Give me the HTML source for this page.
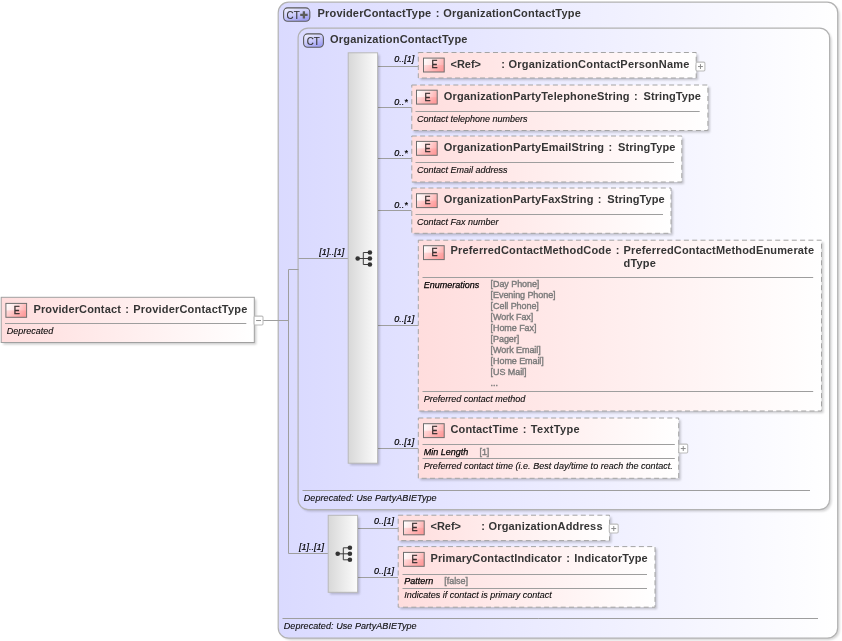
<!DOCTYPE html>
<html><head><meta charset="utf-8"><title>ProviderContact</title>
<style>
html,body{margin:0;padding:0;background:#fff;}
svg{display:block;font-family:"Liberation Sans", sans-serif;will-change:transform;}
.t{font-weight:bold;font-size:11px;fill:#353535;}
.i{font-style:italic;font-size:9px;fill:#0c0c0c;stroke:#0c0c0c;stroke-width:.12px;}
.c{font-style:italic;font-size:9px;fill:#000;stroke:#000;stroke-width:.2px;}
.v{font-size:9px;fill:#7c7c7c;stroke:#7c7c7c;stroke-width:.4px;}
.b{font-size:11px;fill:#3a3030;stroke:#3a3030;stroke-width:.45px;}
.f{font-style:italic;font-size:9px;fill:#000;stroke:#000;stroke-width:.25px;}
.k{font-size:11px;fill:#333;stroke:#333;stroke-width:.15px;}
</style></head><body>
<svg width="842" height="641" viewBox="0 0 842 641">
<defs>
<linearGradient id="gl" x1="0" y1="0" x2="1" y2="0"><stop offset="0" stop-color="#dadaff"/><stop offset="1" stop-color="#ffffff"/></linearGradient>
<linearGradient id="gp" x1="0" y1="0" x2="1" y2="0"><stop offset="0" stop-color="#ffdddd"/><stop offset="1" stop-color="#ffffff"/></linearGradient>
<linearGradient id="gs" x1="0" y1="0" x2="1" y2="0"><stop offset="0" stop-color="#d8d8d8"/><stop offset="1" stop-color="#fcfcfc"/></linearGradient>
<linearGradient id="gb" x1="0" y1="0" x2="1" y2="0.3"><stop offset="0" stop-color="#ffffff"/><stop offset="0.5" stop-color="#ffe4e4"/><stop offset="1" stop-color="#ffb0b0"/></linearGradient>
<linearGradient id="gb2" x1="0" y1="0" x2="1" y2="0.3"><stop offset="0" stop-color="#ffe0e0"/><stop offset="0.5" stop-color="#ffbcbc"/><stop offset="1" stop-color="#ff9c9c"/></linearGradient>
<linearGradient id="gc" x1="0" y1="0" x2="0.6" y2="1"><stop offset="0" stop-color="#f4f4ff"/><stop offset="0.5" stop-color="#d0d0fc"/><stop offset="1" stop-color="#a0a0f4"/></linearGradient>
<filter id="sh" x="-20%" y="-20%" width="140%" height="140%"><feGaussianBlur stdDeviation="1.1"/></filter>
</defs>

<rect x="280.2" y="4.2" width="559.5" height="636" rx="10.5" fill="#000" opacity="0.17" filter="url(#sh)"/>
<rect x="278.2" y="2.2" width="559.5" height="636" rx="10.5" fill="url(#gl)" stroke="#b2b2b2" stroke-width="1.2"/>
<rect x="300.1" y="30.1" width="531.5" height="481.5" rx="10" fill="#000" opacity="0.17" filter="url(#sh)"/>
<rect x="298.1" y="28.1" width="531.5" height="481.5" rx="10" fill="url(#gl)" stroke="#b2b2b2" stroke-width="1.2"/>
<rect x="283.6" y="7.900" width="26.2" height="13.4" rx="4" fill="url(#gc)" stroke="#5a5a5a" stroke-width="1.1"/>
<text x="286.6" y="18.5" class="k" textLength="13" lengthAdjust="spacingAndGlyphs">CT</text>
<path d="M300.200 14.900h7.400M303.900 11.200v7.400" stroke="#5c5c5c" stroke-width="2.3" fill="none"/>
<text x="317.6" y="17" class="t" textLength="113.56" lengthAdjust="spacing">ProviderContactType</text>
<text x="435.66" y="17" class="t">:</text>
<text x="443.26" y="17" class="t" textLength="137.59" lengthAdjust="spacing">OrganizationContactType</text>
<rect x="303.6" y="33.900" width="19.800" height="13.4" rx="4" fill="url(#gc)" stroke="#5a5a5a" stroke-width="1.1"/>
<text x="306.7" y="44.5" class="k" textLength="13" lengthAdjust="spacingAndGlyphs">CT</text>
<text x="330" y="43" class="t" textLength="137.45" lengthAdjust="spacing">OrganizationContactType</text>
<line x1="263" y1="320.5" x2="288.5" y2="320.5" stroke="#9e9e9e" stroke-width="1"/>
<line x1="288.5" y1="269.5" x2="288.5" y2="553.5" stroke="#9e9e9e" stroke-width="1"/>
<line x1="288.5" y1="269.5" x2="298.5" y2="269.5" stroke="#9e9e9e" stroke-width="1"/>
<line x1="298.5" y1="258.5" x2="348" y2="258.5" stroke="#9e9e9e" stroke-width="1"/>
<line x1="288.5" y1="553.5" x2="328" y2="553.5" stroke="#9e9e9e" stroke-width="1"/>
<line x1="377.5" y1="66.5" x2="418" y2="66.5" stroke="#9e9e9e" stroke-width="1"/>
<line x1="377.5" y1="107.5" x2="411.5" y2="107.5" stroke="#9e9e9e" stroke-width="1"/>
<line x1="377.5" y1="158.5" x2="411.5" y2="158.5" stroke="#9e9e9e" stroke-width="1"/>
<line x1="377.5" y1="210.5" x2="411.5" y2="210.5" stroke="#9e9e9e" stroke-width="1"/>
<line x1="377.5" y1="325.5" x2="418" y2="325.5" stroke="#9e9e9e" stroke-width="1"/>
<line x1="377.5" y1="448.5" x2="418" y2="448.5" stroke="#9e9e9e" stroke-width="1"/>
<line x1="357.5" y1="528.5" x2="398" y2="528.5" stroke="#9e9e9e" stroke-width="1"/>
<line x1="357.5" y1="577.5" x2="398" y2="577.5" stroke="#9e9e9e" stroke-width="1"/>
<rect x="350.2" y="54.8" width="29.4" height="410.4" rx="0" fill="#000" opacity="0.2" filter="url(#sh)"/>
<rect x="348.2" y="52.8" width="29.4" height="410.4" fill="url(#gs)" stroke="#b8b8b8" stroke-width="1"/>
<g stroke="#3c3c3c" stroke-width="1" fill="#333">
<line x1="357.7" y1="258.5" x2="369.9" y2="258.5"/>
<line x1="363.3" y1="252.5" x2="363.3" y2="264.5"/>
<line x1="363.3" y1="252.5" x2="369.9" y2="252.5"/>
<line x1="363.3" y1="264.5" x2="369.9" y2="264.5"/>
<circle cx="357.7" cy="258.5" r="2.3" stroke="none"/>
<circle cx="369.9" cy="252.5" r="2.3" stroke="none"/>
<circle cx="369.9" cy="258.5" r="2.3" stroke="none"/>
<circle cx="369.9" cy="264.5" r="2.3" stroke="none"/>
</g>
<rect x="330.2" y="517.3" width="29.4" height="77" rx="0" fill="#000" opacity="0.2" filter="url(#sh)"/>
<rect x="328.2" y="515.3" width="29.4" height="77" fill="url(#gs)" stroke="#b8b8b8" stroke-width="1"/>
<g stroke="#3c3c3c" stroke-width="1" fill="#333">
<line x1="337.7" y1="553.8" x2="349.9" y2="553.8"/>
<line x1="343.3" y1="547.8" x2="343.3" y2="559.8"/>
<line x1="343.3" y1="547.8" x2="349.9" y2="547.8"/>
<line x1="343.3" y1="559.8" x2="349.9" y2="559.8"/>
<circle cx="337.7" cy="553.8" r="2.3" stroke="none"/>
<circle cx="349.9" cy="547.8" r="2.3" stroke="none"/>
<circle cx="349.9" cy="553.8" r="2.3" stroke="none"/>
<circle cx="349.9" cy="559.8" r="2.3" stroke="none"/>
</g>
<text x="319.3" y="255.2" class="c" textLength="25" lengthAdjust="spacing">[1]..[1]</text>
<text x="299" y="550.4" class="c" textLength="25" lengthAdjust="spacing">[1]..[1]</text>
<text x="394.2" y="62.2" class="c" textLength="20" lengthAdjust="spacing">0..[1]</text>
<text x="394.2" y="104.5" class="c" textLength="13.5" lengthAdjust="spacing">0..*</text>
<text x="394.2" y="155.5" class="c" textLength="13.5" lengthAdjust="spacing">0..*</text>
<text x="394.2" y="207.5" class="c" textLength="13.5" lengthAdjust="spacing">0..*</text>
<text x="394.2" y="322.3" class="c" textLength="20" lengthAdjust="spacing">0..[1]</text>
<text x="394.2" y="445.4" class="c" textLength="20" lengthAdjust="spacing">0..[1]</text>
<text x="374" y="524.2" class="c" textLength="20" lengthAdjust="spacing">0..[1]</text>
<text x="374" y="574" class="c" textLength="20" lengthAdjust="spacing">0..[1]</text>
<rect x="3.2" y="299.3" width="253.1" height="45.2" rx="0" fill="#000" opacity="0.2" filter="url(#sh)"/>
<rect x="1.2" y="297.3" width="253.1" height="45.2" fill="url(#gp)" stroke="#a0a0a0" stroke-width="1"/>
<rect x="5.9" y="303.4" width="20.7" height="13.9" fill="url(#gb)"/>
<rect x="5.9" y="310.35" width="20.7" height="6.95" fill="url(#gb2)"/>
<rect x="5.9" y="303.4" width="20.7" height="13.9" fill="none" stroke="#6e6e6e" stroke-width="1"/>
<text x="16.85" y="313.7" class="b" text-anchor="middle" textLength="6" lengthAdjust="spacingAndGlyphs">E</text>
<text x="33.5" y="312.6" class="t" textLength="87.31" lengthAdjust="spacing">ProviderContact</text>
<text x="125.31" y="312.6" class="t">:</text>
<text x="133.21" y="312.6" class="t" textLength="114.11" lengthAdjust="spacing">ProviderContactType</text>
<line x1="5" y1="323.5" x2="246.3" y2="323.5" stroke="#9e9e9e" stroke-width="1"/>
<text x="6.7" y="333.6" class="i" textLength="46.5" lengthAdjust="spacing">Deprecated</text>
<rect x="254.1" y="316.1" width="8.9" height="8.9" rx="1.2" fill="#fff" stroke="#bcbcbc" stroke-width="1.1"/>
<line x1="256.1" y1="320.55" x2="261" y2="320.55" stroke="#8c8c8c"/>
<rect x="420.3" y="54.5" width="277.9" height="25.5" rx="0" fill="#000" opacity="0.2" filter="url(#sh)"/>
<rect x="418.3" y="52.5" width="277.9" height="25.5" fill="url(#gp)" stroke="#a4a4a4" stroke-width="1" stroke-dasharray="5 3.3"/>
<rect x="423.5" y="58.1" width="20.7" height="13.9" fill="url(#gb)"/>
<rect x="423.5" y="65.05" width="20.7" height="6.95" fill="url(#gb2)"/>
<rect x="423.5" y="58.1" width="20.7" height="13.9" fill="none" stroke="#6e6e6e" stroke-width="1"/>
<text x="434.45" y="68.4" class="b" text-anchor="middle" textLength="6" lengthAdjust="spacingAndGlyphs">E</text>
<text x="450.5" y="67.5" class="t" textLength="30.56" lengthAdjust="spacing">&lt;Ref&gt;</text>
<text x="501.3" y="67.5" class="t">:</text>
<text x="508.6" y="67.5" class="t" textLength="180.7" lengthAdjust="spacing">OrganizationContactPersonName</text>
<rect x="696" y="62.1" width="8.9" height="8.9" rx="1.2" fill="#fff" stroke="#bcbcbc" stroke-width="1.1"/>
<line x1="698" y1="66.55" x2="702.9" y2="66.55" stroke="#8c8c8c"/>
<line x1="700.45" y1="64.1" x2="700.45" y2="69" stroke="#8c8c8c"/>
<rect x="413.8" y="87" width="296.1" height="45.5" rx="0" fill="#000" opacity="0.2" filter="url(#sh)"/>
<rect x="411.8" y="85" width="296.1" height="45.5" fill="url(#gp)" stroke="#a4a4a4" stroke-width="1" stroke-dasharray="5 3.3"/>
<rect x="416.5" y="90.2" width="20.7" height="13.9" fill="url(#gb)"/>
<rect x="416.5" y="97.15" width="20.7" height="6.95" fill="url(#gb2)"/>
<rect x="416.5" y="90.2" width="20.7" height="13.9" fill="none" stroke="#6e6e6e" stroke-width="1"/>
<text x="427.45" y="100.5" class="b" text-anchor="middle" textLength="6" lengthAdjust="spacingAndGlyphs">E</text>
<text x="443.75" y="100" class="t" textLength="185.84" lengthAdjust="spacing">OrganizationPartyTelephoneString</text>
<text x="634.09" y="100" class="t">:</text>
<text x="643.59" y="100" class="t" textLength="57.34" lengthAdjust="spacing">StringType</text>
<line x1="415.5" y1="111.5" x2="699.7" y2="111.5" stroke="#9e9e9e" stroke-width="1"/>
<text x="417.1" y="121.5" class="i" textLength="110.5" lengthAdjust="spacing">Contact telephone numbers</text>
<rect x="413.8" y="138" width="270" height="46" rx="0" fill="#000" opacity="0.2" filter="url(#sh)"/>
<rect x="411.8" y="136" width="270" height="46" fill="url(#gp)" stroke="#a4a4a4" stroke-width="1" stroke-dasharray="5 3.3"/>
<rect x="416.5" y="141.4" width="20.7" height="13.9" fill="url(#gb)"/>
<rect x="416.5" y="148.35" width="20.7" height="6.95" fill="url(#gb2)"/>
<rect x="416.5" y="141.4" width="20.7" height="13.9" fill="none" stroke="#6e6e6e" stroke-width="1"/>
<text x="427.45" y="151.7" class="b" text-anchor="middle" textLength="6" lengthAdjust="spacingAndGlyphs">E</text>
<text x="443.75" y="150.8" class="t" textLength="160.3" lengthAdjust="spacing">OrganizationPartyEmailString</text>
<text x="608.55" y="150.8" class="t">:</text>
<text x="618.05" y="150.8" class="t" textLength="57.34" lengthAdjust="spacing">StringType</text>
<line x1="415.5" y1="162.5" x2="674" y2="162.5" stroke="#9e9e9e" stroke-width="1"/>
<text x="417.1" y="172.7" class="i" textLength="90.5" lengthAdjust="spacing">Contact Email address</text>
<rect x="413.8" y="190" width="259.2" height="45.3" rx="0" fill="#000" opacity="0.2" filter="url(#sh)"/>
<rect x="411.8" y="188" width="259.2" height="45.3" fill="url(#gp)" stroke="#a4a4a4" stroke-width="1" stroke-dasharray="5 3.3"/>
<rect x="416.5" y="193.7" width="20.7" height="13.9" fill="url(#gb)"/>
<rect x="416.5" y="200.65" width="20.7" height="6.95" fill="url(#gb2)"/>
<rect x="416.5" y="193.7" width="20.7" height="13.9" fill="none" stroke="#6e6e6e" stroke-width="1"/>
<text x="427.45" y="204" class="b" text-anchor="middle" textLength="6" lengthAdjust="spacingAndGlyphs">E</text>
<text x="443.75" y="203" class="t" textLength="149.61" lengthAdjust="spacing">OrganizationPartyFaxString</text>
<text x="597.86" y="203" class="t">:</text>
<text x="607.36" y="203" class="t" textLength="57.34" lengthAdjust="spacing">StringType</text>
<line x1="415.5" y1="214.5" x2="663" y2="214.5" stroke="#9e9e9e" stroke-width="1"/>
<text x="417.1" y="224.5" class="i" textLength="81.5" lengthAdjust="spacing">Contact Fax number</text>
<rect x="420.3" y="242.2" width="403.2" height="170.8" rx="0" fill="#000" opacity="0.2" filter="url(#sh)"/>
<rect x="418.3" y="240.2" width="403.2" height="170.8" fill="url(#gp)" stroke="#a4a4a4" stroke-width="1" stroke-dasharray="5 3.3"/>
<rect x="423.5" y="245.7" width="20.7" height="13.9" fill="url(#gb)"/>
<rect x="423.5" y="252.65" width="20.7" height="6.95" fill="url(#gb2)"/>
<rect x="423.5" y="245.7" width="20.7" height="13.9" fill="none" stroke="#6e6e6e" stroke-width="1"/>
<text x="434.45" y="256" class="b" text-anchor="middle" textLength="6" lengthAdjust="spacingAndGlyphs">E</text>
<text x="450.5" y="254.4" class="t" textLength="160.85" lengthAdjust="spacing">PreferredContactMethodCode</text>
<text x="615.85" y="254.4" class="t">:</text>
<text x="623.55" y="254.4" class="t" textLength="190.49" lengthAdjust="spacing">PreferredContactMethodEnumerate</text>
<text x="623.6" y="266.8" class="t" textLength="32.23" lengthAdjust="spacing">dType</text>
<line x1="422.5" y1="277.5" x2="813.2" y2="277.5" stroke="#9e9e9e" stroke-width="1"/>
<text x="423.8" y="287.8" class="f" textLength="55.5" lengthAdjust="spacing">Enumerations</text>
<text x="490.6" y="287.3" class="v" textLength="48.76" lengthAdjust="spacing">[Day Phone]</text>
<text x="490.6" y="298.3" class="v" textLength="65.01" lengthAdjust="spacing">[Evening Phone]</text>
<text x="490.6" y="309.3" class="v" textLength="48.27" lengthAdjust="spacing">[Cell Phone]</text>
<text x="490.6" y="320.3" class="v" textLength="42.69" lengthAdjust="spacing">[Work Fax]</text>
<text x="490.6" y="331.3" class="v" textLength="45.8" lengthAdjust="spacing">[Home Fax]</text>
<text x="490.6" y="342.3" class="v" textLength="28.57" lengthAdjust="spacing">[Pager]</text>
<text x="490.6" y="353.3" class="v" textLength="50.08" lengthAdjust="spacing">[Work Email]</text>
<text x="490.6" y="364.3" class="v" textLength="53.19" lengthAdjust="spacing">[Home Email]</text>
<text x="490.6" y="375.3" class="v" textLength="35.95" lengthAdjust="spacing">[US Mail]</text>
<text x="490.6" y="386.3" class="v" textLength="7.39" lengthAdjust="spacing">...</text>
<line x1="422.5" y1="391.5" x2="813.2" y2="391.5" stroke="#9e9e9e" stroke-width="1"/>
<text x="423.8" y="402" class="i" textLength="101.5" lengthAdjust="spacing">Preferred contact method</text>
<rect x="420.3" y="420" width="260.4" height="60.3" rx="0" fill="#000" opacity="0.2" filter="url(#sh)"/>
<rect x="418.3" y="418" width="260.4" height="60.3" fill="url(#gp)" stroke="#a4a4a4" stroke-width="1" stroke-dasharray="5 3.3"/>
<rect x="423.5" y="423.7" width="20.7" height="13.9" fill="url(#gb)"/>
<rect x="423.5" y="430.65" width="20.7" height="6.95" fill="url(#gb2)"/>
<rect x="423.5" y="423.7" width="20.7" height="13.9" fill="none" stroke="#6e6e6e" stroke-width="1"/>
<text x="434.45" y="434" class="b" text-anchor="middle" textLength="6" lengthAdjust="spacingAndGlyphs">E</text>
<text x="450.5" y="433.3" class="t" textLength="67.75" lengthAdjust="spacing">ContactTime</text>
<text x="522.75" y="433.3" class="t">:</text>
<text x="530.85" y="433.3" class="t" textLength="48.7" lengthAdjust="spacing">TextType</text>
<line x1="422.5" y1="444.5" x2="674.8" y2="444.5" stroke="#9e9e9e" stroke-width="1"/>
<text x="423.8" y="455" class="f" textLength="44.5" lengthAdjust="spacing">Min Length</text>
<text x="479.5" y="455" class="v" textLength="9.85" lengthAdjust="spacing">[1]</text>
<line x1="422.5" y1="458.5" x2="674.8" y2="458.5" stroke="#9e9e9e" stroke-width="1"/>
<text x="423.8" y="469" class="i" textLength="248.98" lengthAdjust="spacing">Preferred contact time (i.e. Best day/time to reach the contact.</text>
<rect x="678.8" y="444.1" width="8.9" height="8.9" rx="1.2" fill="#fff" stroke="#bcbcbc" stroke-width="1.1"/>
<line x1="680.8" y1="448.55" x2="685.7" y2="448.55" stroke="#8c8c8c"/>
<line x1="683.25" y1="446.1" x2="683.25" y2="451" stroke="#8c8c8c"/>
<line x1="302.5" y1="490.5" x2="810" y2="490.5" stroke="#9e9e9e" stroke-width="1"/>
<text x="303.8" y="500.8" class="i" textLength="132.79" lengthAdjust="spacing">Deprecated: Use PartyABIEType</text>
<rect x="400.2" y="517.2" width="211.3" height="25.4" rx="0" fill="#000" opacity="0.2" filter="url(#sh)"/>
<rect x="398.2" y="515.2" width="211.3" height="25.4" fill="url(#gp)" stroke="#a4a4a4" stroke-width="1" stroke-dasharray="5 3.3"/>
<rect x="403.5" y="520.9" width="20.7" height="13.9" fill="url(#gb)"/>
<rect x="403.5" y="527.85" width="20.7" height="6.95" fill="url(#gb2)"/>
<rect x="403.5" y="520.9" width="20.7" height="13.9" fill="none" stroke="#6e6e6e" stroke-width="1"/>
<text x="414.45" y="531.2" class="b" text-anchor="middle" textLength="6" lengthAdjust="spacingAndGlyphs">E</text>
<text x="430.5" y="529.6" class="t" textLength="30.56" lengthAdjust="spacing">&lt;Ref&gt;</text>
<text x="481.3" y="529.6" class="t">:</text>
<text x="488.6" y="529.6" class="t" textLength="113.9" lengthAdjust="spacing">OrganizationAddress</text>
<rect x="609.3" y="524.1" width="8.9" height="8.9" rx="1.2" fill="#fff" stroke="#bcbcbc" stroke-width="1.1"/>
<line x1="611.3" y1="528.55" x2="616.2" y2="528.55" stroke="#8c8c8c"/>
<line x1="613.75" y1="526.1" x2="613.75" y2="531" stroke="#8c8c8c"/>
<rect x="400.2" y="548.6" width="256.8" height="60.6" rx="0" fill="#000" opacity="0.2" filter="url(#sh)"/>
<rect x="398.2" y="546.6" width="256.8" height="60.6" fill="url(#gp)" stroke="#a4a4a4" stroke-width="1" stroke-dasharray="5 3.3"/>
<rect x="403.5" y="552.4" width="20.7" height="13.9" fill="url(#gb)"/>
<rect x="403.5" y="559.35" width="20.7" height="6.95" fill="url(#gb2)"/>
<rect x="403.5" y="552.4" width="20.7" height="13.9" fill="none" stroke="#6e6e6e" stroke-width="1"/>
<text x="414.45" y="562.7" class="b" text-anchor="middle" textLength="6" lengthAdjust="spacingAndGlyphs">E</text>
<text x="430.5" y="562" class="t" textLength="131.23" lengthAdjust="spacing">PrimaryContactIndicator</text>
<text x="566.23" y="562" class="t">:</text>
<text x="574.33" y="562" class="t" textLength="73.41" lengthAdjust="spacing">IndicatorType</text>
<line x1="402.5" y1="574.5" x2="647" y2="574.5" stroke="#9e9e9e" stroke-width="1"/>
<text x="404.2" y="584.2" class="f" textLength="29" lengthAdjust="spacing">Pattern</text>
<text x="444.3" y="584.2" class="v" textLength="23.64" lengthAdjust="spacing">[false]</text>
<line x1="402.5" y1="588.5" x2="647" y2="588.5" stroke="#9e9e9e" stroke-width="1"/>
<text x="404.2" y="598.2" class="i" textLength="147.5" lengthAdjust="spacing">Indicates if contact is primary contact</text>
<line x1="282.5" y1="618.5" x2="818" y2="618.5" stroke="#9e9e9e" stroke-width="1"/>
<text x="283.8" y="629" class="i" textLength="132.79" lengthAdjust="spacing">Deprecated: Use PartyABIEType</text>
</svg></body></html>
